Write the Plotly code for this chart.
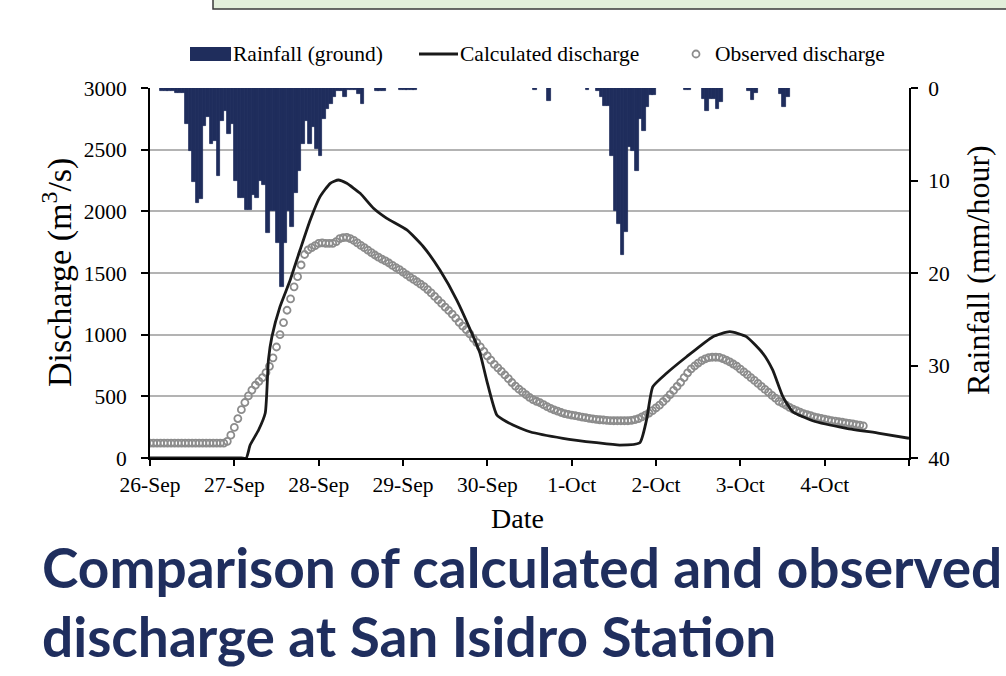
import plotly.graph_objects as go
import pandas as pd

START = pd.Timestamp("2009-09-26 00:00")

# ---- data ----
# hourly ground rainfall (mm/hour); hour index counted from 26-Sep 00:00
rain_hour = [3, 4, 5, 6, 7, 8, 9, 10, 11, 12, 13, 14, 15, 16, 17, 18, 19, 20, 21, 22,
             23, 24, 25, 26, 27, 28, 29, 30, 31, 32, 33, 34, 35, 36, 37, 38, 39, 40, 41, 42,
             43, 44, 45, 46, 47, 48, 49, 50, 51, 52, 53, 54, 55, 56, 57, 58, 59, 60,
             64, 65, 66, 71, 72, 73, 74, 75,
             109, 113, 124, 127, 128, 129, 130, 131, 132, 133, 134, 135, 136, 137, 138,
             139, 140, 141, 142, 143,
             152, 153, 157, 158, 159, 160, 161, 162, 170, 171, 172, 179, 180, 181]
rain_mm = [0.3, 0.3, 0.3, 0.3, 0.5, 0.5, 0.5, 3.9, 6.8, 10.2, 12.4, 12.0, 4.1, 3.1, 6.0, 5.7, 9.5, 3.6, 2.5, 5.0,
           3.9, 10.0, 11.9, 11.9, 13.2, 13.2, 11.6, 11.9, 10.0, 10.5, 15.7, 13.3, 13.3, 16.8, 21.5, 16.8, 13.3, 15.0, 11.4, 9.0,
           6.1, 3.6, 6.1, 4.2, 6.6, 7.4, 3.4, 2.3, 1.7, 1.0, 0.3, 0.3, 1.0, 0.2, 0.2, 0.2, 0.6, 1.7,
           0.3, 0.3, 0.3, 0.2, 0.2, 0.2, 0.2, 0.2,
           0.2, 1.4, 0.2, 0.3, 1.0, 1.9, 1.9, 7.4, 13.3, 14.7, 18.0, 15.6, 6.4, 6.8, 9.0,
           3.4, 4.6, 2.1, 0.8, 0.8,
           0.2, 0.2, 1.2, 2.5, 1.2, 1.2, 2.3, 1.5, 0.3, 1.3, 0.5, 0.7, 2.1, 1.0]

# calculated discharge (m3/s) at read points (hours from 26-Sep 00:00)
calc_hour = [0, 26.0, 27.4, 28.5, 30.9, 32.8, 33.7, 34.7, 37.0, 39.9, 42.7, 45.6, 48.4, 51.3, 53.6,
             56.0, 59.8, 63.6, 67.4, 73.1, 77.8, 82.5, 87.3, 92.0, 93.9, 95.8, 98.7, 101.5,
             103.3, 108.1, 117.5, 127.1, 133.7, 139.4, 141.3, 143.1, 147.0, 152.7, 160.2,
             165.0, 169.7, 174.4, 177.2, 180.1, 182.9, 188.6, 198.2, 207.6, 216.0]
calc_q = [0, 0, 0, 105, 227, 365, 795, 984, 1227, 1443, 1686, 1930, 2119, 2227, 2254,
          2227, 2146, 2025, 1943, 1849, 1713, 1524, 1281, 984, 851, 632, 349, 294,
          268, 213, 160, 124, 105, 124, 308, 578, 687, 821, 984,
          1024, 984, 849, 714, 497, 375, 302, 241, 200, 160]

# observed discharge (m3/s), hourly from 26-Sep 00:00
obs_q = [120] * 22 + [
    135, 185, 248, 320, 392, 450, 503, 551, 590, 622, 651, 693, 743, 812, 900, 1000, 1098, 1198,
    1290, 1388, 1470, 1565, 1650, 1688, 1705, 1722, 1740, 1745, 1741, 1740, 1740, 1755, 1778,
    1787, 1789, 1778, 1765, 1744, 1724, 1705, 1685, 1666, 1646, 1628, 1612, 1598, 1581, 1562,
    1544, 1527, 1507, 1487, 1467, 1449, 1429, 1409, 1390, 1366, 1339, 1310, 1281, 1253, 1224,
    1196, 1167, 1134, 1099, 1069, 1041, 1006, 970, 936, 901, 865, 828, 793, 759, 731, 702, 673,
    643, 612, 583, 558, 536, 513, 492, 474, 460, 448, 432, 416, 403, 391, 380, 369, 360, 354,
    348, 343, 337, 332, 327, 322, 318, 313, 310, 308, 305, 303, 302, 302, 302, 302, 302, 305,
    311, 319, 333, 348, 364, 384, 406, 428, 456, 484, 514, 548, 580, 613, 652, 691, 723, 746,
    770, 790, 803, 814, 817, 817, 816, 806, 793, 780, 762, 744, 720, 699, 676, 652, 629, 605,
    580, 557, 533, 508, 485, 459, 444, 428, 410, 397, 384, 372, 360, 351, 343, 334, 327, 321,
    315, 309, 303, 299, 294, 290, 285, 281, 276, 271, 266, 261]

tick_dates = ["2009-09-26", "2009-09-27", "2009-09-28", "2009-09-29", "2009-09-30",
              "2009-10-01", "2009-10-02", "2009-10-03", "2009-10-04", "2009-10-05"]
tick_labels = ["26-Sep", "27-Sep", "28-Sep", "29-Sep", "30-Sep",
               "1-Oct", "2-Oct", "3-Oct", "4-Oct", ""]

# ---- styling ----
NAVY = "#1f2d5c"
TITLE_NAVY = "#1f2e5e"
GRAY = "#8c8c8c"
SERIF = "Liberation Serif"

W, H = 1006, 676
ML, MT = 150, 88
PW, PH = 759, 370
MR = W - ML - PW
MB = H - MT - PH


def px(x):
    return (x - ML) / PW


def py(y):
    return (MT + PH - y) / PH


rain_x = [START + pd.Timedelta(hours=h + 0.5) for h in rain_hour]
calc_x = [START + pd.Timedelta(hours=h) for h in calc_hour]
obs_x = [START + pd.Timedelta(hours=i) for i in range(len(obs_q))]

fig = go.Figure()
fig.add_trace(go.Bar(x=rain_x, y=rain_mm, yaxis="y", width=3800000,
                     marker=dict(color=NAVY, line=dict(color=NAVY, width=0.8)),
                     name="Rainfall (ground)"))
fig.add_trace(go.Scatter(x=obs_x, y=obs_q, yaxis="y2", mode="markers",
                         marker=dict(symbol="circle-open", size=7, color=GRAY,
                                     line=dict(width=1.8, color=GRAY)),
                         name="Observed discharge"))
fig.add_trace(go.Scatter(x=calc_x, y=calc_q, yaxis="y2", mode="lines",
                         line=dict(color="#1a1a1a", width=2.8, shape="spline", smoothing=0.5),
                         name="Calculated discharge"))

tickfont = dict(family=SERIF, size=21.5, color="black")
fig.update_layout(
    width=W, height=H,
    margin=dict(l=ML, r=MR, t=MT, b=MB, pad=0),
    paper_bgcolor="white", plot_bgcolor="white",
    showlegend=False,
    bargap=0,
    xaxis=dict(type="date", range=[START, START + pd.Timedelta(days=9)],
               tickvals=tick_dates, ticktext=tick_labels,
               ticks="outside", ticklen=6, tickwidth=1.5, tickcolor="black",
               showline=True, linecolor="black", linewidth=2,
               showgrid=False, zeroline=False, tickfont=tickfont,
               ticklabelstandoff=0),
    yaxis=dict(side="right", range=[40, 0], tickvals=[0, 10, 20, 30, 40],
               ticks="outside", ticklen=7, tickwidth=1.5, tickcolor="black",
               showline=True, linecolor="black", linewidth=2,
               showgrid=False, zeroline=False, tickfont=tickfont,
               ticklabelstandoff=6),
    yaxis2=dict(overlaying="y", side="left", range=[0, 3000], dtick=500,
                ticks="outside", ticklen=7, tickwidth=1.5, tickcolor="black",
                showline=True, linecolor="black", linewidth=2,
                showgrid=True, gridcolor="#b3b3b3", gridwidth=2,
                zeroline=False, tickfont=tickfont, ticklabelstandoff=10),
)

shapes = [
    # partial box at the top of the slide
    dict(type="rect", xref="paper", yref="paper", x0=px(213), x1=px(1020),
         y0=py(9), y1=py(-6), fillcolor="#e2efda", line=dict(color="#3a3a3a", width=1.5),
         layer="above"),
    # legend symbols
    dict(type="rect", xref="paper", yref="paper", x0=px(190), x1=px(231),
         y0=py(61), y1=py(47), fillcolor=NAVY, line=dict(width=0)),
    dict(type="line", xref="paper", yref="paper", x0=px(419), x1=px(458),
         y0=py(54), y1=py(54), line=dict(color="#1a1a1a", width=3)),
    dict(type="circle", xref="paper", yref="paper", x0=px(692.5), x1=px(699.5),
         y0=py(57.5), y1=py(50.5), line=dict(color=GRAY, width=1.8)),
]

annotations = [
    dict(text="Rainfall (ground)", x=px(231), y=py(54), xanchor="left"),
    dict(text="Calculated discharge", x=px(458), y=py(54), xanchor="left"),
    dict(text="Observed discharge", x=px(713), y=py(54), xanchor="left"),
]
for a in annotations:
    a.update(xref="paper", yref="paper", yanchor="middle", showarrow=False,
             font=dict(family=SERIF, size=21.5, color="black"))

annotations += [
    dict(text="Date", x=px(517), y=py(518), xref="paper", yref="paper",
         xanchor="center", yanchor="middle", showarrow=False,
         font=dict(family=SERIF, size=28, color="black")),
    dict(text="Discharge (m<sup>3</sup>/s)", x=px(57), y=py(273), xref="paper", yref="paper",
         xanchor="center", yanchor="middle", showarrow=False, textangle=-90,
         font=dict(family=SERIF, size=34, color="black")),
    dict(text="Rainfall (mm/hour)", x=px(978), y=py(270), xref="paper", yref="paper",
         xanchor="center", yanchor="middle", showarrow=False, textangle=-90,
         font=dict(family=SERIF, size=32, color="black")),
    dict(text="<b>Comparison of calculated and observed</b>", x=px(40), y=py(567),
         xref="paper", yref="paper", xanchor="left", yanchor="middle", showarrow=False,
         font=dict(family="Lato", size=55, color=TITLE_NAVY)),
    dict(text="<b>discharge at San Isidro Station</b>", x=px(40), y=py(636),
         xref="paper", yref="paper", xanchor="left", yanchor="middle", showarrow=False,
         font=dict(family="Lato", size=55, color=TITLE_NAVY)),
]

fig.update_layout(shapes=shapes, annotations=annotations)
fig.write_html("out.html",
               config={"displayModeBar": False},
               post_script="document.body.style.margin='0';document.body.style.overflow='hidden';")
